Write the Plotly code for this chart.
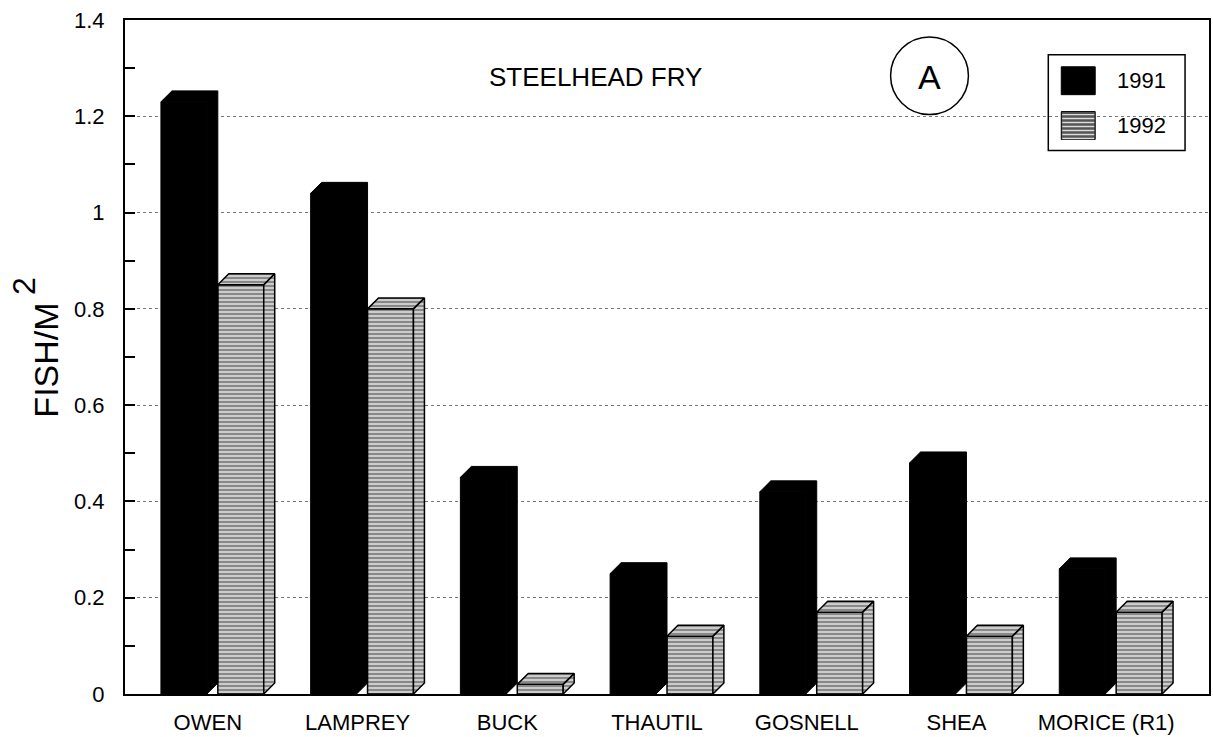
import plotly.graph_objects as go

# ---------------- data ----------------
sites = ["OWEN", "LAMPREY", "BUCK", "THAUTIL", "GOSNELL", "SHEA", "MORICE (R1)"]
fry_1991 = [1.23, 1.04, 0.45, 0.25, 0.42, 0.48, 0.26]
fry_1992 = [0.85, 0.80, 0.02, 0.12, 0.17, 0.12, 0.17]
years = ["1991", "1992"]
y_ticks = [0, 0.2, 0.4, 0.6, 0.8, 1.0, 1.2, 1.4]
y_tick_text = ["0", "0.2", "0.4", "0.6", "0.8", "1", "1.2", "1.4"]
title_text = "STEELHEAD FRY"
panel_label = "A"

# ---------------- layout geometry ----------------
FIG_W, FIG_H = 1213, 737
ML, MR, MT, MB = 125, 2, 20, 40
PW = FIG_W - ML - MR
PH = FIG_H - MT - MB
X_RANGE = [-0.5533, 6.6867]
Y_RANGE = [0, 1.4]
PX_PER_X = PW / (X_RANGE[1] - X_RANGE[0])
PX_PER_Y = PH / (Y_RANGE[1] - Y_RANGE[0])

BAR_W = 46 / PX_PER_X          # front-face width
DX = 11 / PX_PER_X             # 3-D depth (x)
DY = 11 / PX_PER_Y             # 3-D depth (y)
OFF_91 = -47 / PX_PER_X
OFF_92 = OFF_91 + BAR_W + DX

HATCH = dict(shape="-", fgcolor="#333333", bgcolor="#dcdcdc", size=4, solidity=0.6)
FONT = "Liberation Sans, Arial, sans-serif"


def px(xp, yp):
    """pixel -> paper coords"""
    return (xp - ML) / PW, (FIG_H - MB - yp) / PH


fig = go.Figure()

xs = list(range(len(sites)))

# front faces via bars
fig.add_trace(go.Bar(
    x=xs, y=fry_1991, width=BAR_W, offset=OFF_91, name=years[0],
    marker=dict(color="black", line=dict(color="black", width=1)),
    showlegend=False, hoverinfo="skip"))
fig.add_trace(go.Bar(
    x=xs, y=fry_1992, width=BAR_W, offset=OFF_92, name=years[1],
    marker=dict(color="#dcdcdc", pattern=HATCH, line=dict(color="black", width=1.5)),
    showlegend=False, hoverinfo="skip"))

# 3-D top/side faces for 1991 (solid black)
bx, by = [], []
for i, v in zip(xs, fry_1991):
    x0 = i + OFF_91
    x1 = x0 + BAR_W
    bx += [x0, x0 + DX, x1 + DX, x1 + DX, x1, x1, x0, None]
    by += [v, v + DY, v + DY, DY, 0, v, v, None]
fig.add_trace(go.Scatter(x=bx, y=by, mode="lines", fill="toself",
                         fillcolor="black", line=dict(color="black", width=1),
                         showlegend=False, hoverinfo="skip"))

# 3-D top/side faces for 1992 (hatched)
hx, hy = [], []
for i, v in zip(xs, fry_1992):
    x0 = i + OFF_92
    x1 = x0 + BAR_W
    hx += [x0, x0 + DX, x1 + DX, x1, x0, None]
    hy += [v, v + DY, v + DY, v, v, None]
    hx += [x1, x1 + DX, x1 + DX, x1, x1, None]
    hy += [0, DY, v + DY, v, 0, None]
fig.add_trace(go.Scatter(x=hx, y=hy, mode="lines", fill="toself",
                         fillcolor="#dcdcdc", fillpattern=HATCH,
                         line=dict(color="black", width=1.5),
                         showlegend=False, hoverinfo="skip"))

# ---------------- annotations / decorations ----------------
shapes = []
annotations = []


def note(xp, yp, text, size, **kw):
    x, y = px(xp, yp)
    d = dict(x=x, y=y, xref="paper", yref="paper", text=text, showarrow=False,
             xanchor="center", yanchor="middle",
             font=dict(size=size, color="black", family=FONT))
    d.update(kw)
    annotations.append(d)


# title
note(596, 77, title_text, 26)

# circled panel letter
cx0, cy0 = px(892, 115)
cx1, cy1 = px(970, 37)
shapes.append(dict(type="circle", xref="paper", yref="paper", x0=cx0, y0=cy0, x1=cx1, y1=cy1,
                   line=dict(color="black", width=1.5)))
note(931, 77, panel_label, 34)

# y-axis title
note(46, 362, "FISH/M", 34, textangle=-90)
note(24, 287, "2", 32, textangle=-90)

# legend box
lx0, ly0 = px(1050, 151)
lx1, ly1 = px(1187, 55)
shapes.append(dict(type="rect", xref="paper", yref="paper", x0=lx0, y0=ly0, x1=lx1, y1=ly1,
                   line=dict(color="black", width=1.5), fillcolor="rgba(0,0,0,0)"))
# swatch 1991
s0x, s0y = px(1063, 95)
s1x, s1y = px(1097, 67)
shapes.append(dict(type="rect", xref="paper", yref="paper", x0=s0x, y0=s0y, x1=s1x, y1=s1y,
                   line=dict(color="black", width=1), fillcolor="black"))
# swatch 1992 (hatched)
s0x, s0y = px(1063, 140)
s1x, s1y = px(1097, 112)
shapes.append(dict(type="rect", xref="paper", yref="paper", x0=s0x, y0=s0y, x1=s1x, y1=s1y,
                   line=dict(color="black", width=1), fillcolor="#555555"))
for k in range(7):
    yy = 115 + k * 4
    a, b = px(1064, yy)
    c, _ = px(1096, yy)
    shapes.append(dict(type="line", xref="paper", yref="paper", x0=a, x1=c, y0=b, y1=b,
                       line=dict(color="#dcdcdc", width=1.4)))
for yr, yc in zip(years, [81, 126]):
    note(1117, yc, yr, 22, xanchor="left")

minor_ticks = [(a + b) / 2 for a, b in zip(y_ticks[:-1], y_ticks[1:])]

fig.update_layout(
    width=FIG_W, height=FIG_H,
    margin=dict(l=ML, r=MR, t=MT, b=MB, pad=0),
    paper_bgcolor="white", plot_bgcolor="white",
    barmode="overlay", showlegend=False,
    font=dict(family=FONT, color="black"),
    shapes=shapes, annotations=annotations,
    xaxis=dict(range=X_RANGE, tickvals=xs, ticktext=sites, ticks="",
               showgrid=False, zeroline=False, showline=True, linecolor="black",
               linewidth=2, mirror=True, tickfont=dict(size=22, family=FONT),
               ticklabelstandoff=8, fixedrange=True),
    yaxis=dict(range=Y_RANGE, tickvals=y_ticks, ticktext=y_tick_text,
               ticks="inside", ticklen=10, tickwidth=1.5, tickcolor="black",
               minor=dict(tickvals=minor_ticks, ticks="inside", ticklen=10,
                          tickwidth=1.5, tickcolor="black", showgrid=False),
               showgrid=True, gridcolor="#777777", griddash="dot", gridwidth=1,
               zeroline=False, showline=True, linecolor="black", linewidth=2,
               mirror=True, tickfont=dict(size=22, family=FONT),
               ticklabelstandoff=14, fixedrange=True),
)

fig.write_html("out.html", config={"displayModeBar": False},
               post_script="document.body.style.margin='0px';document.body.style.overflow='hidden';")
